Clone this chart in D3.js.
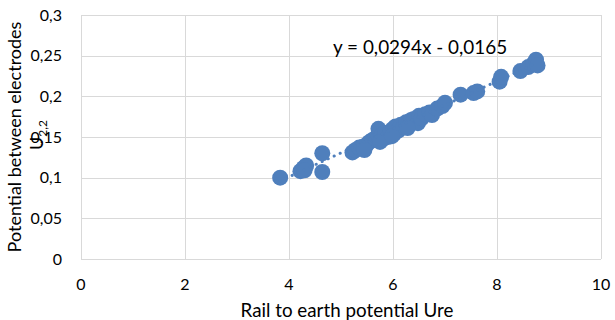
<!DOCTYPE html>
<html>
<head>
<meta charset="utf-8">
<script src="https://cdn.jsdelivr.net/npm/d3@7"></script>
<style>
  body { margin: 0; background: #fff; }
  text { font-family: Lato, "Open Sans", sans-serif; fill: #000; }
</style>
</head>
<body>
<svg id="chart" width="615" height="320"></svg>
<script>
// Measured points: rail to earth potential vs potential between electrodes
const ureValues = [3.83, 4.22, 4.28, 4.33, 4.30, 4.64, 4.64, 5.22, 5.28, 5.35, 5.42, 5.50, 5.55, 5.60,
    5.65, 5.70, 5.72, 5.78, 5.80, 5.85, 5.90, 5.95, 6.00, 6.02, 6.05, 6.10, 6.15, 6.20, 6.25, 6.30,
    6.35, 6.40, 6.48, 6.50, 6.55, 6.62, 6.70, 6.75, 6.85, 6.95, 7.00, 7.30, 7.55, 7.62, 8.05, 8.08,
    8.45, 8.60, 8.70, 8.75, 8.78, 5.45, 5.75, 5.98, 6.28];
const u22Values = [0.100, 0.108, 0.112, 0.115, 0.109, 0.107, 0.130, 0.131, 0.134, 0.137, 0.138, 0.141, 0.144, 0.146,
    0.148, 0.150, 0.160, 0.152, 0.147, 0.155, 0.150, 0.157, 0.160, 0.154, 0.163, 0.158, 0.165, 0.162, 0.168, 0.166,
    0.171, 0.172, 0.167, 0.176, 0.173, 0.178, 0.180, 0.177, 0.185, 0.188, 0.192, 0.202, 0.204, 0.206, 0.218, 0.224,
    0.231, 0.236, 0.240, 0.245, 0.238, 0.134, 0.144, 0.151, 0.161];
const xTicks = [0, 2, 4, 6, 8, 10];
const yTicks = [0, 0.05, 0.1, 0.15, 0.2, 0.25, 0.3];
const slope = 0.0294;
const intercept = -0.0165;

const width = 615;
const height = 320;
const margin = { top: 15, right: 14, bottom: 61, left: 81 };
const color = "#4f7fbc";

const svg = d3.select("#chart");
const points = ureValues.map((x, i) => ({ x, y: u22Values[i] }));

const xScale = d3.scaleLinear().domain([0, 10]).range([margin.left, width - margin.right]);
const yScale = d3.scaleLinear().domain([0, 0.3]).range([height - margin.bottom, margin.top]);
const fmt = d => d3.format("~g")(d).replace(".", ",");

// Gridlines
svg.append("g")
    .selectAll("line.h")
    .data(yTicks)
    .join("line")
    .attr("x1", margin.left)
    .attr("x2", width - margin.right)
    .attr("y1", d => Math.round(yScale(d)) + 0.5)
    .attr("y2", d => Math.round(yScale(d)) + 0.5)
    .attr("stroke", "#d9d9d9");

svg.append("g")
    .selectAll("line.v")
    .data(xTicks)
    .join("line")
    .attr("x1", d => Math.round(xScale(d)) + 0.5)
    .attr("x2", d => Math.round(xScale(d)) + 0.5)
    .attr("y1", margin.top)
    .attr("y2", height - margin.bottom)
    .attr("stroke", "#d9d9d9");

// Tick labels
svg.append("g")
    .selectAll("text")
    .data(yTicks)
    .join("text")
    .attr("x", margin.left - 19)
    .attr("y", d => yScale(d))
    .attr("dy", "0.35em")
    .attr("text-anchor", "end")
    .style("font-size", "16px")
    .text(fmt);

svg.append("g")
    .selectAll("text")
    .data(xTicks)
    .join("text")
    .attr("x", d => xScale(d))
    .attr("y", height - margin.bottom + 31)
    .attr("text-anchor", "middle")
    .style("font-size", "16px")
    .text(fmt);

// Axis titles
svg.append("text")
    .attr("x", (margin.left + width - margin.right) / 2 + 6)
    .attr("y", height - 3)
    .attr("text-anchor", "middle")
    .style("font-size", "18.8px")
    .text("Rail to earth potential Ure");

svg.append("text")
    .attr("transform", `translate(21, ${(margin.top + height - margin.bottom) / 2}) rotate(-90)`)
    .attr("text-anchor", "middle")
    .style("font-size", "18px")
    .text("Potential between electrodes");

const sub = svg.append("text")
    .attr("transform", `translate(43, 150) rotate(-90)`)
    .style("font-size", "18px");
sub.append("tspan").text("U");
sub.append("tspan").attr("dy", 4).style("font-size", "12px").text("2,2");

// Points
svg.append("g")
    .selectAll("circle")
    .data(points)
    .join("circle")
    .attr("cx", d => xScale(d.x))
    .attr("cy", d => yScale(d.y))
    .attr("r", 8)
    .attr("fill", color);

// Linear trendline (dotted)
const [xMin, xMax] = d3.extent(ureValues);
svg.append("line")
    .attr("x1", xScale(xMin))
    .attr("y1", yScale(slope * xMin + intercept))
    .attr("x2", xScale(xMax))
    .attr("y2", yScale(slope * xMax + intercept))
    .attr("stroke", color)
    .attr("stroke-width", 3)
    .attr("stroke-linecap", "round")
    .attr("stroke-dasharray", "0.1 6.5");

// Equation label
svg.append("text")
    .attr("x", 333)
    .attr("y", 54)
    .style("font-size", "18.9px")
    .text("y = 0,0294x - 0,0165");
</script>
</body>
</html>
